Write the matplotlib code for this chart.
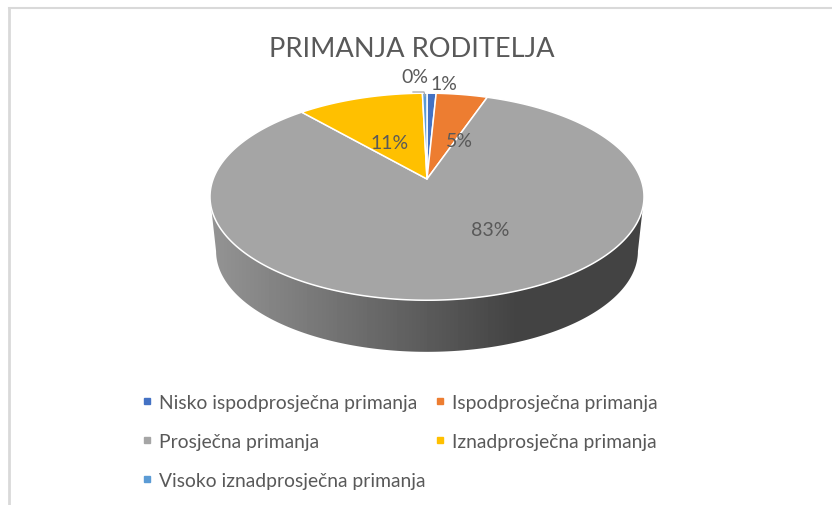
import numpy as np
import matplotlib
matplotlib.use("Agg")
import matplotlib.pyplot as plt
from matplotlib.patches import Polygon
from matplotlib.lines import Line2D

plt.rcParams['font.family'] = ['Lato', 'DejaVu Sans']

categories = ["Nisko ispodprosječna primanja", "Ispodprosječna primanja", "Prosječna primanja",
              "Iznadprosječna primanja", "Visoko iznadprosječna primanja"]
values = [0.8, 4.51, 83.2, 11.1, 0.4]
colors = ["#4472c4", "#ed7d31", "#a5a5a5", "#ffc000", "#5b9bd5"]
title = "PRIMANJA RODITELJA"
txt_col = "#595959"

# label spots in picture pixels
label_pos = [(444, 84), (459, 141), (490, 230), (390, 143), (415, 77)]

CX, CY = 427, 180
A, B, K = 213.8, 100.5, 0.171


def project(u, v, scale=1.0, dy=0.0):
    w = 1 + K * v
    return CX + scale * A * u / w, CY + dy + scale * B * (-v) / w


def wedge_pts(start, stop):
    # angles clockwise from the top of the pie
    t = np.radians(np.linspace(start, stop, max(int(stop - start) * 2, 2) + 1))
    x, y = project(np.sin(t), np.cos(t))
    return np.column_stack([np.r_[CX, x], np.r_[CY, y]])


fig = plt.figure(figsize=(8.32, 5.06), dpi=100)
ax = fig.add_axes([0, 0, 1, 1])
ax.set_xlim(0, 832)
ax.set_ylim(506, 0)
ax.axis("off")

# chart frame
ax.plot([9, 9], [506, 9], color="#d9d9d9", lw=2)
ax.plot([9, 832], [9, 9], color="#d9d9d9", lw=1.5)

# side of the disc, a grey gradient clipped to the rim
t0 = np.arccos(-K)
t = np.linspace(t0, 2 * np.pi - t0, 300)
top_x, top_y = project(np.sin(t), np.cos(t))
bot_x, bot_y = project(np.sin(t), np.cos(t), scale=0.972, dy=55)
rim = Polygon(np.column_stack([np.r_[top_x, bot_x[::-1]], np.r_[top_y, bot_y[::-1]]]),
              fc="none", ec="none")
ax.add_patch(rim)
shade = np.clip((np.linspace(205, 650, 445) - 210) / (515 - 210), 0, 1)
grad = np.repeat((0.58 - shade * 0.315)[None, :], 2, axis=0)
im = ax.imshow(grad, cmap="gray", vmin=0, vmax=1, extent=[205, 650, 360, 190], aspect="auto")
ax.set_xlim(0, 832)
ax.set_ylim(506, 0)
im.set_clip_path(rim)

# top of the disc, going clockwise from 12 o'clock
angle = 0
total = sum(values)
for val, col in zip(values, colors):
    sweep = val / total * 360
    ax.add_patch(Polygon(wedge_pts(angle, angle + sweep), fc=col, ec="white", lw=1.1, joinstyle="round"))
    angle += sweep

for val, pos in zip(values, label_pos):
    ax.text(pos[0], pos[1], f"{val / total * 100:.0f}%", color=txt_col, fontsize=14,
            ha="center", va="center")

# leader line of the smallest slice
ax.plot([413, 424, 425], [93, 93, 97], color="#a6a6a6", lw=0.9)

ax.text(412, 49, title, color=txt_col, fontsize=19.6, ha="center", va="center")

handles = [Line2D([], [], ls="", marker="s", ms=5, color=c) for c in colors]
order = [0, 2, 4, 1, 3]
ax.legend([handles[i] for i in order], [categories[i] for i in order], ncol=2, frameon=False,
          fontsize=13.9, labelcolor=txt_col, loc="upper left", bbox_to_anchor=(137.5 / 832, 1 - 395 / 506),
          borderaxespad=0, borderpad=0, handletextpad=0.11, columnspacing=0.28, labelspacing=1.14,
          handlelength=1.0)

fig.savefig("out.png", dpi=100)
